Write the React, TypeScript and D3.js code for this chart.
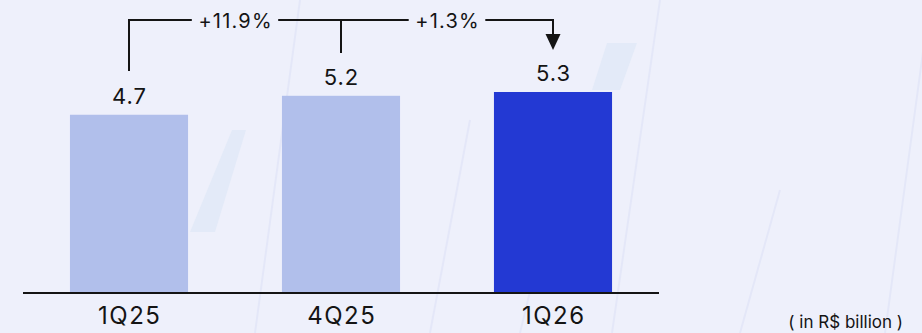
import React, { useLayoutEffect, useRef, useState } from 'react';
import * as d3 from 'd3';

const categories = ['1Q25', '4Q25', '1Q26'];
const values = [4.7, 5.2, 5.3];
const valueLabels = ['4.7', '5.2', '5.3'];
const barColors = ['#b1bfeb', '#b1bfeb', '#2339d3'];
const growthLabels = ['+11.9%', '+1.3%'];
const unitLabel = '( in R$ billion )';

const WIDTH = 922;
const HEIGHT = 333;
const BG = '#eef0fb';
const INK = '#141414';
const FONT = 'Inter, "Noto Sans", sans-serif';

const App = () => {
  const baseY = 293;
  const growthRefs = useRef<(SVGTextElement | null)[]>([]);
  const [gapWidths, setGapWidths] = useState<number[]>([87, 72]);

  // Measure growth labels so the bracket line breaks around them
  useLayoutEffect(() => {
    const w = growthRefs.current.map(t => (t ? t.getBBox().width : 80));
    setGapWidths(w);
  }, []);

  // Band scale for the bar positions
  const x = d3.scaleBand<string>()
    .domain(categories)
    .range([23, 659])
    .paddingInner(0.443)
    .paddingOuter(0.2215);

  // Linear scale for bar heights
  const y = d3.scaleLinear()
    .domain([0, 5.3])
    .range([baseY, 92]);

  const cx = (c: string) => (x(c) ?? 0) + x.bandwidth() / 2;

  const bracketY = 20;
  const centers = categories.map(cx);

  // Bracket path: left riser, top line, middle riser, arrow on the right
  const topLine = d3.line()([[centers[0], 71], [centers[0], bracketY], [centers[2], bracketY], [centers[2], 36]]);
  const midRiser = d3.line()([[centers[1], bracketY], [centers[1], 53]]);
  const arrowHead = d3.line()([[centers[2] - 7.5, 34], [centers[2] + 7.5, 34], [centers[2], 50]]) + 'Z';

  // Faint decorative strokes in the background
  const decoLines: [number, number, number, number][] = [
    [300, 0, 255, 333], [470, 120, 430, 333], [660, 0, 612, 333],
    [930, 0, 885, 333], [780, 190, 740, 333], [540, 250, 520, 333],
  ];

  return (
    <svg width={WIDTH} height={HEIGHT} style={{ position: 'fixed', left: 0, top: 0, background: BG }}>
      <rect width={WIDTH} height={HEIGHT} fill={BG} />
      <g stroke="#e4e7f8" strokeWidth={2} fill="none">
        {decoLines.map((l, i) => (
          <line key={i} x1={l[0]} y1={l[1]} x2={l[2]} y2={l[3]} />
        ))}
      </g>
      <g fill="#e3eaf8">
        <path d="M232,130 L246,130 L215,232 L190,232 Z" />
        <path d="M607,43 L637,43 L620,90 L592,90 Z" />
      </g>

      {/* Bars */}
      {categories.map((c, i) => (
        <rect
          key={c}
          x={x(c)}
          y={y(values[i])}
          width={x.bandwidth()}
          height={baseY - y(values[i])}
          fill={barColors[i]}
        />
      ))}

      {/* Value labels */}
      {categories.map((c, i) => (
        <text
          key={c}
          x={cx(c) + 0.5}
          y={y(values[i]) - 11}
          textAnchor="middle"
          fontFamily={FONT}
          fontSize={22}
          letterSpacing={1}
          fill={INK}
        >
          {valueLabels[i]}
        </text>
      ))}

      {/* Baseline */}
      <line x1={23} x2={659} y1={baseY} y2={baseY} stroke={INK} strokeWidth={2} />

      {/* Category labels */}
      {categories.map(c => (
        <text
          key={c}
          x={cx(c) + 0.75}
          y={324}
          textAnchor="middle"
          fontFamily={FONT}
          fontSize={24}
          letterSpacing={1.5}
          fill={INK}
        >
          {c}
        </text>
      ))}

      {/* Growth bracket */}
      <path d={topLine ?? ''} fill="none" stroke={INK} strokeWidth={2} />
      <path d={midRiser ?? ''} fill="none" stroke={INK} strokeWidth={2} />
      <path d={arrowHead} fill={INK} />
      {growthLabels.map((g, i) => {
        const mid = (centers[i] + centers[i + 1]) / 2;
        const w = gapWidths[i];
        return (
          <g key={g}>
            <rect x={mid - w / 2 - 6} y={bracketY - 4} width={w + 12} height={8} fill={BG} />
            <text
              ref={el => { growthRefs.current[i] = el; }}
              x={mid + 0.6}
              y={bracketY + 8}
              textAnchor="middle"
              fontFamily={FONT}
              fontSize={20}
              letterSpacing={1.2}
              fill={INK}
            >
              {g}
            </text>
          </g>
        );
      })}

      {/* Unit note */}
      <text x={903} y={328} textAnchor="end" fontFamily={FONT} fontSize={17} fill={INK}>
        {unitLabel}
      </text>
    </svg>
  );
};

export default App;
